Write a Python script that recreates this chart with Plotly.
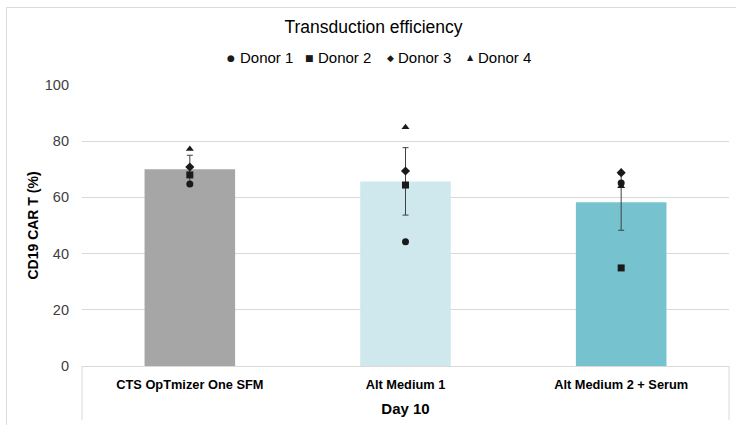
import plotly.graph_objects as go

categories = ["CTS OpTmizer One SFM", "Alt Medium 1", "Alt Medium 2 + Serum"]
means = [70.0, 65.7, 58.3]
errors = [5.0, 12.0, 10.0]
bar_colors = ["#a6a6a6", "#cfe8ee", "#76c3cf"]

donor_names = ["Donor 1", "Donor 2", "Donor 3", "Donor 4"]
donor1 = [64.8, 44.2, 65.1]
donor2 = [68.0, 64.4, 34.9]
donor3 = [70.8, 69.4, 68.8]
donor4 = [77.2, 85.0, 64.0]
donor_symbols = ["circle", "square", "diamond", "triangle-up"]
legend_glyphs = ["●", "■", "◆", "▲"]

# plot-area geometry in pixels (used only to convert layout positions)
L, R, T, B, W, H = 82, 7, 85, 59, 736, 425
PW, PH = W - L - R, H - T - B


def px_x(p):
    return (p - L) / PW


def px_y(p):
    return (H - B - p) / PH


fig = go.Figure()
fig.add_trace(go.Bar(
    x=categories, y=means, marker=dict(color=bar_colors, line=dict(width=0)),
    error_y=dict(type="data", array=errors, visible=True, color="#404040", thickness=1, width=3),
    showlegend=False, hoverinfo="skip"))

for name, vals, sym in zip(donor_names, [donor1, donor2, donor3, donor4], donor_symbols):
    fig.add_trace(go.Scatter(
        x=categories, y=vals, mode="markers", name=name, showlegend=False,
        marker=dict(symbol=sym, size=7, color="#1a1a1a")))

FONT = "Liberation Sans, Arial, sans-serif"
fig.update_layout(
    width=W, height=H,
    paper_bgcolor="white", plot_bgcolor="white",
    font=dict(family=FONT, color="#000000"),
    margin=dict(l=L, r=R, t=T, b=B),
    bargap=0.58,
    showlegend=False,
    title=dict(text="Transduction efficiency", x=373.5 / W, xanchor="center", y=1 - 27 / H,
               yanchor="middle", font=dict(size=17.5, color="#000000")),
    xaxis=dict(showline=True, linecolor="#d9d9d9", linewidth=1, ticks="", automargin=False,
               tickfont=dict(size=12.8), ticklabelstandoff=7,
               title=dict(text="<b>Day 10</b>", font=dict(size=15), standoff=12)),
    yaxis=dict(range=[0, 100], dtick=20, showgrid=True, gridcolor="#d9d9d9", zeroline=False,
               showline=False, ticks="", automargin=False,
               tickfont=dict(size=14.5, color="#404040"), ticklabelstandoff=12,
               title=dict(text="<b>CD19 CAR T (%)</b>", font=dict(size=14), standoff=2)),
)
fig.update_xaxes(tickvals=categories, ticktext=["<b>" + c + "</b>" for c in categories])

# legend drawn as text items
sym_x = [231, 309, 390, 470]
txt_x = [238, 316, 396, 476]
sym_size = [9, 9, 9, 8]
for g, s, sx, tx, name in zip(legend_glyphs, sym_size, sym_x, txt_x, donor_names):
    fig.add_annotation(text=g, x=px_x(sx), y=px_y(58), xref="paper", yref="paper",
                       xanchor="center", yanchor="middle", showarrow=False,
                       font=dict(size=s, color="#1a1a1a", family="DejaVu Sans"))
    fig.add_annotation(text=name, x=px_x(tx), y=px_y(58), xref="paper", yref="paper",
                       xanchor="left", yanchor="middle", showarrow=False,
                       font=dict(size=15, color="#000000"))

# category-axis outer dividers
for xp in (0, 1):
    fig.add_shape(type="line", xref="paper", yref="paper", x0=xp, x1=xp, y0=0, y1=px_y(420),
                  line=dict(color="#d9d9d9", width=1))

# chart border
fig.add_shape(type="rect", xref="paper", yref="paper", x0=px_x(6.5), x1=px_x(760),
              y0=px_y(460), y1=px_y(7.5), line=dict(color="#dcdcdc", width=1), layer="below")

fig.write_html("out.html", config={"displayModeBar": False},
               post_script="document.body.style.margin='0';document.body.style.overflow='hidden';")
